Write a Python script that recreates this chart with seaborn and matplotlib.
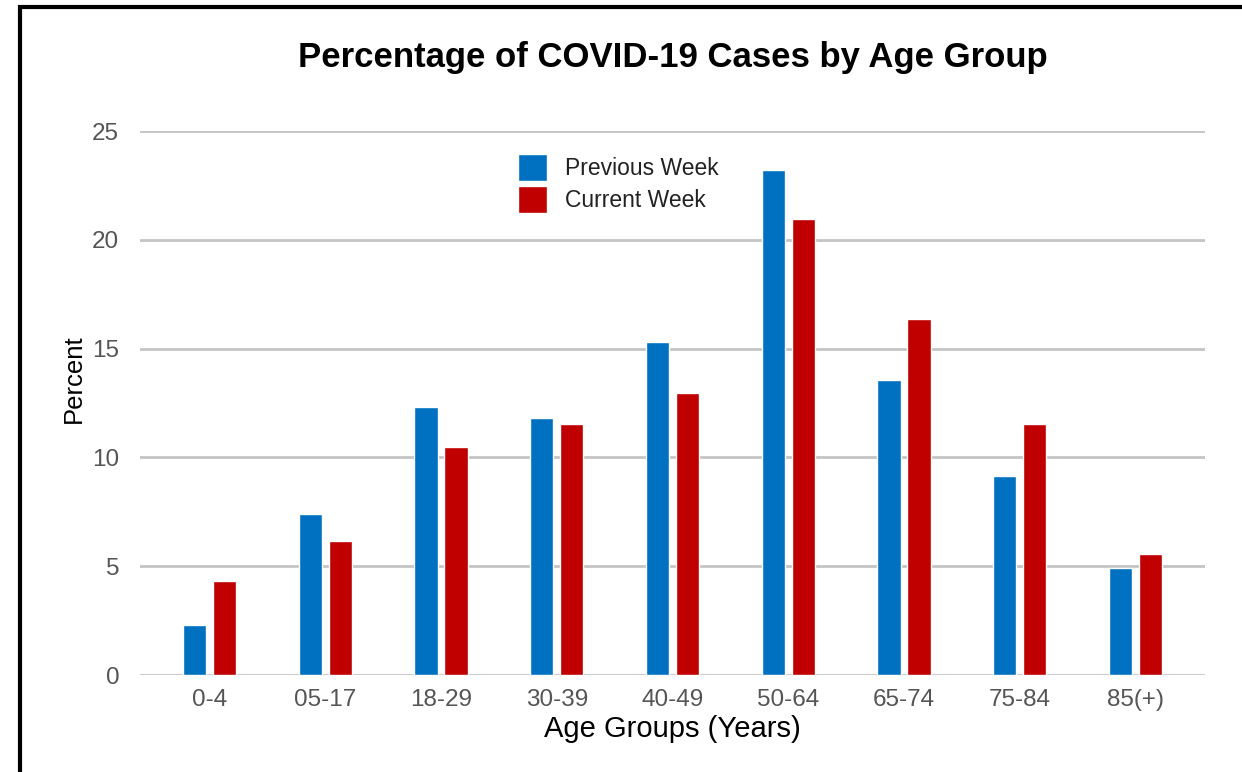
import matplotlib
matplotlib.use("Agg")
import matplotlib.pyplot as plt
import seaborn as sns
import pandas as pd
from matplotlib.patches import Rectangle

age_groups = ["0-4", "05-17", "18-29", "30-39", "40-49", "50-64", "65-74", "75-84", "85(+)"]
previous_week = [2.3, 7.4, 12.3, 11.8, 15.3, 23.2, 13.55, 9.15, 4.92]
current_week = [4.3, 6.15, 10.5, 11.55, 12.95, 20.95, 16.35, 11.55, 5.55]
series_names = ["Previous Week", "Current Week"]
colors = ["#0070C0", "#C00000"]

df = pd.DataFrame({
    "Age": age_groups * 2,
    "Percent": previous_week + current_week,
    "Series": [series_names[0]] * len(age_groups) + [series_names[1]] * len(age_groups),
})

sns.set_theme(style="white")
plt.rcParams["font.family"] = ["Liberation Sans", "DejaVu Sans"]

fig = plt.figure(figsize=(12.42, 7.72), dpi=100)
W, H = 1242, 772
ax = fig.add_axes([140 / W, 1 - 675 / H, (1205 - 140) / W, (675 - 131) / H])

sns.barplot(data=df, x="Age", y="Percent", hue="Series", order=age_groups,
            hue_order=series_names, palette=colors, width=0.52, gap=0.23,
            saturation=1, ax=ax, zorder=3)

ax.set_ylim(0, 25)
ax.set_xlim(-0.6, 8.6)
ax.set_yticks([0, 5, 10, 15, 20, 25])
ax.yaxis.grid(True, color="#C4C4C4", linewidth=2, zorder=0)
ax.set_axisbelow(True)
for s in ["top", "right", "left", "bottom"]:
    ax.spines[s].set_visible(False)
ax.tick_params(axis="both", length=0, labelsize=17.5, labelcolor="#555555")
ax.tick_params(axis="y", pad=15)
ax.tick_params(axis="x", pad=10)

ax.set_ylabel("Percent", fontsize=18.5, color="black")
ax.yaxis.set_label_coords((86 - 140) / 1065, (675 - 379) / 544)
ax.set_xlabel("Age Groups (Years)", fontsize=21, color="black", labelpad=3)

fig.text(0.5 * (300 + 1045) / W, 1 - 58 / H, "Percentage of COVID-19 Cases by Age Group",
         ha="center", va="center", fontsize=25, fontweight="bold", color="black")

leg = ax.legend(loc="upper left", bbox_to_anchor=((518 - 140) / 1065, (675 - 154) / 544),
                frameon=False, fontsize=16.5, handlelength=1.25, handleheight=1.45,
                labelspacing=0.2, handletextpad=0.8, borderpad=0, borderaxespad=0)
for t in leg.get_texts():
    t.set_color("#222222")

fig.patches.append(Rectangle((20 / W, -0.1), 1.2, 1 - 7 / H + 0.1, transform=fig.transFigure,
                             fill=False, edgecolor="black", linewidth=3, zorder=10))

fig.savefig("out.png", dpi=100, facecolor="white")
